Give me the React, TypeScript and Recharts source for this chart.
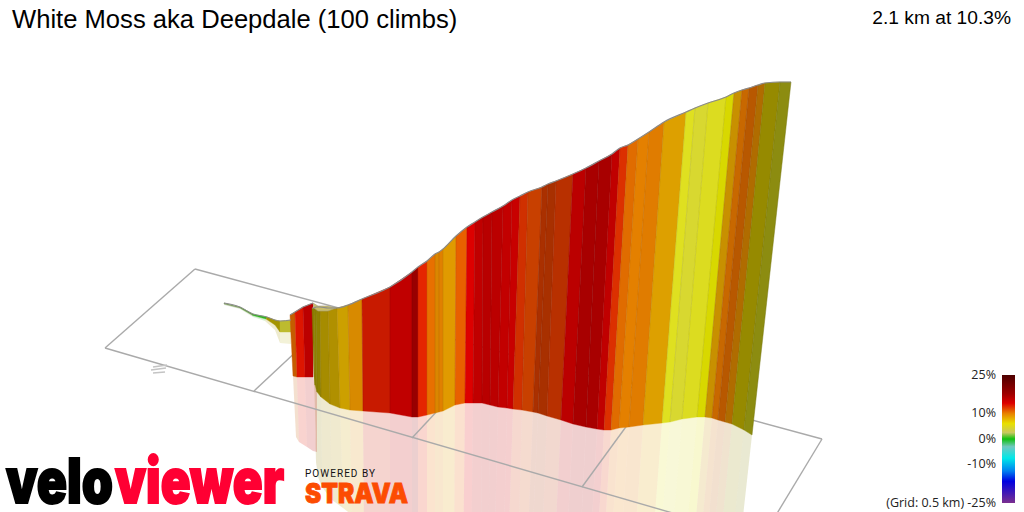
import { Polygon, Scatter, ScatterChart, XAxis, YAxis } from 'recharts';

const WIDTH = 1024;
const HEIGHT = 512;

// stations along the climb: ridge line and foot of the wall
const ridgeX = [224, 240, 253, 267, 275, 280, 291, 290, 295, 303, 313, 312, 314, 316, 320, 328, 337, 348, 362, 390, 412, 418, 427, 435, 439, 443, 456, 467, 475, 483, 492, 503, 512, 520, 528, 542, 548, 556, 573, 586, 599, 612, 620, 628, 638, 649, 664, 686, 695, 708, 726, 734, 742, 749, 758, 765, 780, 791];
const ridgeY = [303, 307, 314, 317, 320, 321, 320, 315, 312, 307, 303, 308, 308, 307, 307, 308, 308, 305, 299, 287, 272, 267, 261, 254, 252, 249, 236, 227, 222, 217, 212, 206, 200, 196, 192, 187, 184, 181, 174, 168, 161, 154, 148, 145, 139, 132, 122, 112, 108, 103, 97, 93, 90, 88, 85, 83, 82, 82];
const footX = [224, 240, 253, 266, 275, 280, 291, 293, 297, 305, 313, 314, 315, 317, 321, 330, 340, 350, 363, 390, 412, 418, 427, 435, 439, 443, 455, 465, 473, 482, 490, 498, 507, 513, 522, 533, 538, 547, 561, 573, 586, 597, 604, 611, 619, 629, 643, 662, 670, 682, 697, 705, 712, 718, 725, 732, 744, 752];
const footY = [304, 308, 315.5, 319, 325, 332, 332, 376, 377, 377, 377, 377, 385, 392, 397, 404, 408, 410, 411, 413, 417, 417, 415, 413, 412, 411, 405, 403, 403, 403, 405, 407, 408, 409, 410, 412, 413, 416, 420, 424, 427, 429, 430, 430, 428, 427, 425, 423, 422, 419, 417, 417, 418, 420, 422, 424, 430, 435];

// colour of the stretch between a station and the next one, null where the ribbon breaks
const stretchColours = ['#7a9a5a', '#5f9a3a', '#2fb51f', '#a39400', '#a39400', '#bdbb2f', null, '#c55c00', '#dd1500', '#bb0000', null, '#8f8200', '#8f8200', '#8f8200', '#a68c00', '#b09000', '#cca000', '#d88a00', '#c81a00', '#c00000', '#990000', '#e52500', '#e87000', '#da8600', '#e08000', '#e09a00', '#e86000', '#dd0000', '#c00000', '#b80000', '#bb0000', '#c20000', '#c80000', '#d03000', '#c84000', '#aa3000', '#a83000', '#b83000', '#bb0000', '#a80000', '#a80000', '#c00000', '#dc3000', '#e06c00', '#e48000', '#e07c00', '#dda000', '#dfe020', '#d8d830', '#dcdc20', '#d8d800', '#c89000', '#c86800', '#b85800', '#b06c00', '#968a00', '#8c8c10'];

// pale patch under the curled foot of the wall, and the flat lid of the ribbon beside it
const undercutX = [313, 315, 317, 317, 313];
const undercutY = [377, 385, 392, 452, 451];
const lidX = [313, 318, 328, 336, 328, 318, 314];
const lidY = [303, 306, 306, 308, 311, 311, 308];

// ground grid, pairs of end points
const gridX = [[195, 105], [105, 700], [195, 822], [822, 770], [254, 300], [412, 440], [582, 628]];
const gridY = [[269, 348], [348, 521], [269, 439], [439, 525], [391, 348], [438, 408], [487, 424]];

// the tiny unreadable grid label below the near edge
const scrawlX = [[153, 167], [151, 166], [153, 165]];
const scrawlY = [[367, 365], [370, 368], [373, 372]];

const legendStops = [
  { offset: 0, colour: '#4d0000' },
  { offset: 0.15, colour: '#a00000' },
  { offset: 0.22, colour: '#dd0000' },
  { offset: 0.3, colour: '#e88000' },
  { offset: 0.38, colour: '#e8e000' },
  { offset: 0.45, colour: '#c8c860' },
  { offset: 0.5, colour: '#10c010' },
  { offset: 0.56, colour: '#70c8c0' },
  { offset: 0.65, colour: '#00e8e8' },
  { offset: 0.75, colour: '#0080f0' },
  { offset: 0.83, colour: '#0000e0' },
  { offset: 1, colour: '#7b2f8f' },
];
const legendLabels = [
  { text: '25%', y: 375 },
  { text: '10%', y: 413 },
  { text: '0%', y: 439 },
  { text: '-10%', y: 464 },
  { text: '(Grid: 0.5 km) -25%', y: 503 },
];

const NoDot = () => <g />;

const wallData = (i: number) => [
  { x: ridgeX[i], y: ridgeY[i] },
  { x: ridgeX[i + 1], y: ridgeY[i + 1] },
  { x: footX[i + 1], y: footY[i + 1] },
  { x: footX[i], y: footY[i] },
];

// reflection on the ground: the wall turned over at its foot
const mirrorData = (i: number) => [
  { x: footX[i], y: footY[i] },
  { x: footX[i + 1], y: footY[i + 1] },
  { x: 2 * footX[i + 1] - ridgeX[i + 1], y: 2 * footY[i + 1] - ridgeY[i + 1] },
  { x: 2 * footX[i] - ridgeX[i], y: 2 * footY[i] - ridgeY[i] },
];

const ridgeData = ridgeX.map((x, i) => ({ x, y: ridgeY[i] }));
const zip = (xs: number[], ys: number[]) => xs.map((x, i) => ({ x, y: ys[i] }));

const labelFont = '"Open Sans", sans-serif';

export default function App() {
  return (
    <div style={{ position: 'absolute', left: 0, top: 0, width: WIDTH, height: HEIGHT, background: '#fff' }}>
      <ScatterChart width={WIDTH} height={HEIGHT} margin={{ top: 0, right: 0, bottom: 0, left: 0 }}>
        <XAxis type="number" dataKey="x" domain={[0, WIDTH]} allowDataOverflow hide />
        <YAxis type="number" dataKey="y" domain={[0, HEIGHT]} reversed allowDataOverflow hide />
        {stretchColours.map((colour, i) =>
          colour ? (
            <Scatter
              key={`mirror-${i}`}
              data={mirrorData(i)}
              isAnimationActive={false}
              shape={NoDot}
              line={(p: any) => <Polygon points={p.points} fill={colour} fillOpacity={0.19} stroke="none" />}
            />
          ) : null,
        )}
        <Scatter
          data={zip(undercutX, undercutY)}
          isAnimationActive={false}
          shape={NoDot}
          line={(p: any) => <Polygon points={p.points} fill="#bb0000" fillOpacity={0.19} stroke="none" />}
        />
        {gridX.map((xs, i) => (
          <Scatter
            key={`grid-${i}`}
            data={zip(xs, gridY[i])}
            isAnimationActive={false}
            shape={NoDot}
            line={{ stroke: '#aaaaaa', strokeWidth: 1.4 }}
          />
        ))}
        {scrawlX.map((xs, i) => (
          <Scatter
            key={`scrawl-${i}`}
            data={zip(xs, scrawlY[i])}
            isAnimationActive={false}
            shape={NoDot}
            line={{ stroke: '#c4c4c4', strokeWidth: 1.6 }}
          />
        ))}
        {stretchColours.map((colour, i) =>
          colour ? (
            <Scatter
              key={`wall-${i}`}
              data={wallData(i)}
              isAnimationActive={false}
              shape={NoDot}
              line={(p: any) => <Polygon points={p.points} fill={colour} stroke={colour} strokeWidth={0.4} />}
            />
          ) : null,
        )}
        {ridgeX.map((x, i) =>
          i > 10 ? (
            <Scatter
              key={`seam-${i}`}
              data={[{ x, y: ridgeY[i] }, { x: footX[i], y: footY[i] }]}
              isAnimationActive={false}
              shape={NoDot}
              line={{ stroke: '#000', strokeOpacity: 0.1, strokeWidth: 0.8 }}
            />
          ) : null,
        )}
        <Scatter
          data={zip(lidX, lidY)}
          isAnimationActive={false}
          shape={NoDot}
          line={(p: any) => <Polygon points={p.points} fill="#c9bd6a" stroke="#a8a080" strokeWidth={0.6} />}
        />
        <Scatter
          data={ridgeData.slice(0, 7)}
          isAnimationActive={false}
          shape={NoDot}
          lineJointType="monotoneX"
          line={{ stroke: '#8a8a8a', strokeWidth: 1 }}
        />
        <Scatter
          data={ridgeData.slice(7, 11)}
          isAnimationActive={false}
          shape={NoDot}
          line={{ stroke: '#8a8a8a', strokeWidth: 1.2 }}
        />
        <Scatter
          data={ridgeData.slice(11)}
          isAnimationActive={false}
          shape={NoDot}
          lineJointType="monotoneX"
          line={{ stroke: '#8a8a8a', strokeWidth: 1.2 }}
        />
      </ScatterChart>

      <div style={{ position: 'absolute', left: 12, top: 5, font: '25.6px "Liberation Sans", sans-serif', color: '#000', whiteSpace: 'nowrap' }}>
        White Moss aka Deepdale (100 climbs)
      </div>
      <div style={{ position: 'absolute', right: 13, top: 7, font: '19.2px "Liberation Sans", sans-serif', color: '#000', whiteSpace: 'nowrap' }}>
        2.1 km at 10.3%
      </div>

      <div
        style={{
          position: 'absolute',
          left: 1002,
          top: 375,
          width: 13,
          height: 128,
          background: `linear-gradient(to bottom, ${legendStops.map((s) => `${s.colour} ${s.offset * 100}%`).join(', ')})`,
        }}
      />
      {legendLabels.map((l) => (
        <div
          key={l.text}
          style={{ position: 'absolute', right: 28, top: l.y - 9, font: `12.5px ${labelFont}`, lineHeight: '18px', color: '#222', whiteSpace: 'nowrap' }}
        >
          {l.text}
        </div>
      ))}

      <svg style={{ position: 'absolute', left: 0, top: 0 }} width={WIDTH} height={HEIGHT}>
        <text x={6} y={503} textLength={107} lengthAdjust="spacingAndGlyphs" fontFamily="Inter, sans-serif" fontWeight={900} fontSize={62} fill="#000" stroke="#000" strokeWidth={2}>
          velo
        </text>
        <text x={115} y={503} textLength={169} lengthAdjust="spacingAndGlyphs" fontFamily="Inter, sans-serif" fontWeight={900} fontSize={62} fill="#ff0033" stroke="#ff0033" strokeWidth={2}>
          viewer
        </text>
        <text x={305} y={477} textLength={70} fontFamily="Roboto, sans-serif" fontWeight={400} fontSize={10} fill="#111">
          POWERED BY
        </text>
        <text x={305} y={503} textLength={103} lengthAdjust="spacingAndGlyphs" fontFamily="Inter, sans-serif" fontWeight={900} fontSize={27} fill="#fc4c02" stroke="#fc4c02" strokeWidth={0.8}>
          STRAVA
        </text>
      </svg>
    </div>
  );
}
